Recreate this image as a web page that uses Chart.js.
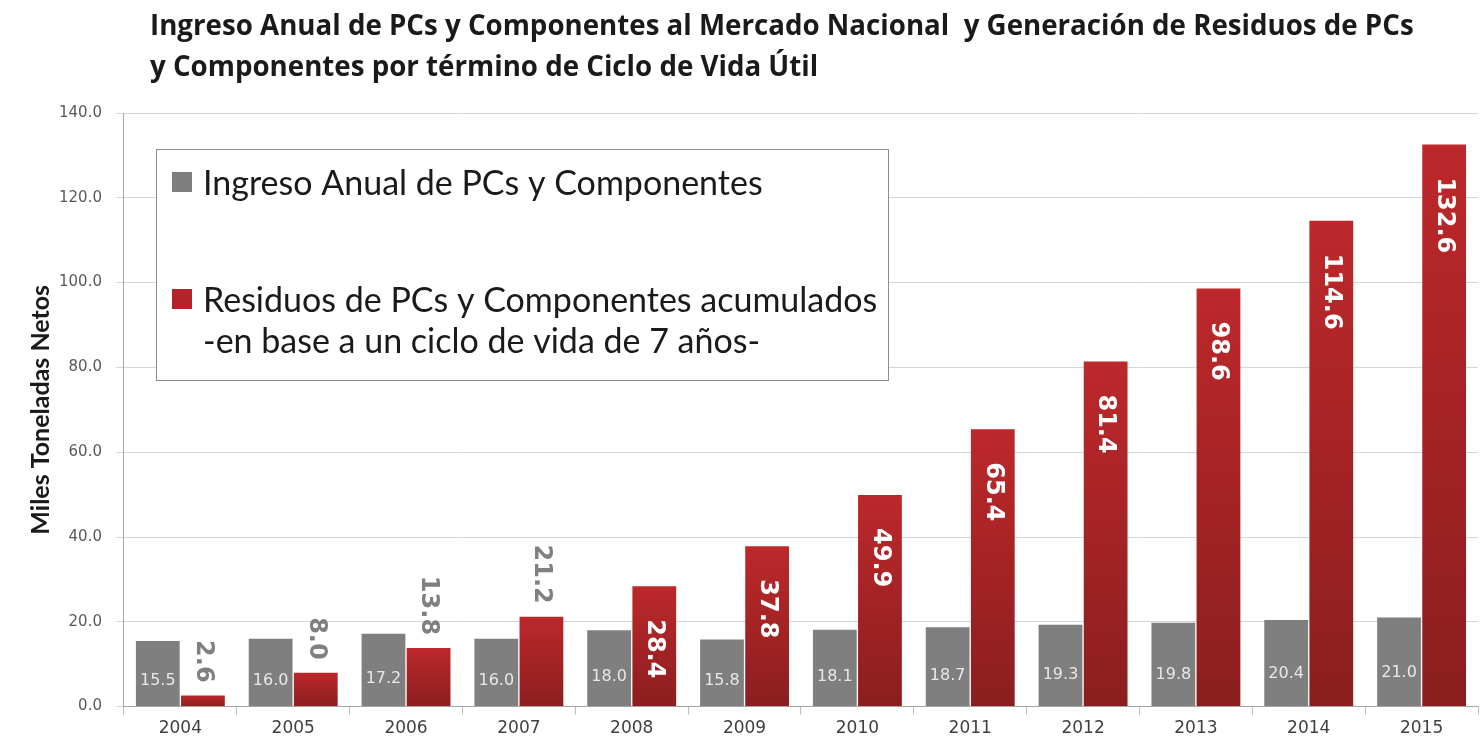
<!DOCTYPE html>
<html><head><meta charset="utf-8">
<script src="https://cdn.jsdelivr.net/npm/chart.js@4.4.0/dist/chart.umd.min.js"></script>
<style>html,body{margin:0;padding:0;background:#fff;overflow:hidden}#wrap{width:1484px;height:744px;position:relative}</style>
</head><body><div id="wrap"><canvas id="c" width="1484" height="744"></canvas></div>
<script>
const categories = ['2004','2005','2006','2007','2008','2009','2010','2011','2012','2013','2014','2015'];
const ingresoValues = [15.5, 16.0, 17.2, 16.0, 18.0, 15.8, 18.1, 18.7, 19.3, 19.8, 20.4, 21.0];
const residuosValues = [2.6, 8.0, 13.8, 21.2, 28.4, 37.8, 49.9, 65.4, 81.4, 98.6, 114.6, 132.6];
const ingresoLabel = ['Ingreso Anual de PCs y Componentes'];
const residuosLabel = ['Residuos de PCs y Componentes acumulados', '-en base a un ciclo de vida de 7 años-'];
const titleLines = ['Ingreso Anual de PCs y Componentes al Mercado Nacional  y Generación de Residuos de PCs', 'y Componentes por término de Ciclo de Vida Útil'];
const yAxisTitle = 'Miles Toneladas Netos';

const GRAY = '#7f7f7f';
const RED_TOP = '#bd282b';
const RED_BOTTOM = '#8b1e1f';

const titlePlugin = {
  id: 'customTitle',
  afterDraw(chart) {
    const ctx = chart.ctx;
    ctx.save();
    ctx.font = 'bold 27.7px "Open Sans"';
    ctx.fillStyle = '#1a1a1a';
    ctx.textAlign = 'left';
    ctx.textBaseline = 'alphabetic';
    ctx.fillText(titleLines[0], 150, 35);
    ctx.fillText(titleLines[1], 150, 76);
    ctx.restore();
  }
};

const legendPlugin = {
  id: 'boxLegend',
  afterDraw(chart) {
    const ctx = chart.ctx;
    ctx.save();
    ctx.fillStyle = '#ffffff';
    ctx.fillRect(156, 149, 732, 231);
    ctx.strokeStyle = '#8c8c8c';
    ctx.lineWidth = 1;
    ctx.strokeRect(156.5, 149.5, 732, 231);
    const items = [
      {lines: chart.data.datasets[0].legendLines, color: GRAY, y: 195},
      {lines: chart.data.datasets[1].legendLines, color: '#b5232a', y: 312}
    ];
    ctx.font = '34px Lato';
    ctx.textBaseline = 'alphabetic';
    items.forEach(it => {
      ctx.fillStyle = it.color;
      ctx.fillRect(172, it.y - 23, 20, 20);
      ctx.fillStyle = '#1a1a1a';
      it.lines.forEach((ln, k) => ctx.fillText(ln, 203, it.y + k * 41));
    });
    ctx.restore();
  }
};

const labelPlugin = {
  id: 'barLabels',
  afterDatasetsDraw(chart) {
    const ctx = chart.ctx;
    const m0 = chart.getDatasetMeta(0);
    ctx.save();
    ctx.font = '16px "DejaVu Sans"';
    ctx.fillStyle = '#e8e8e8';
    ctx.textAlign = 'center';
    ctx.textBaseline = 'middle';
    m0.data.forEach((bar, i) => {
      const h = bar.base - bar.y;
      ctx.fillText(ingresoValues[i].toFixed(1), bar.x, bar.base - h * 0.38);
    });
    ctx.restore();
    const m1 = chart.getDatasetMeta(1);
    m1.data.forEach((bar, i) => {
      const txt = residuosValues[i].toFixed(1);
      ctx.save();
      ctx.font = 'bold 24px "DejaVu Sans"';
      const w = ctx.measureText(txt).width;
      const h = bar.base - bar.y;
      ctx.textBaseline = 'middle';
      if (h > w + 40) {
        ctx.translate(bar.x, bar.y + 33);
        ctx.rotate(Math.PI / 2);
        ctx.textAlign = 'left';
        ctx.fillStyle = '#ffffff';
      } else {
        ctx.translate(bar.x, bar.y - 13);
        ctx.rotate(Math.PI / 2);
        ctx.textAlign = 'right';
        ctx.fillStyle = '#808080';
      }
      ctx.fillText(txt, 0, 0);
      ctx.restore();
    });
  }
};

function redGradient(c) {
  const chart = c.chart;
  if (!chart.chartArea || c.type !== 'data') return RED_TOP;
  const ys = chart.scales.y;
  const top = ys.getPixelForValue(c.raw);
  const bottom = ys.getPixelForValue(0);
  if (!isFinite(top) || top === bottom) return RED_TOP;
  const g = chart.ctx.createLinearGradient(0, top, 0, bottom);
  g.addColorStop(0, RED_TOP);
  g.addColorStop(1, RED_BOTTOM);
  return g;
}

new Chart(document.getElementById('c'), {
  type: 'bar',
  data: {
    labels: categories,
    datasets: [
      {label: ingresoLabel.join(' '), legendLines: ingresoLabel, data: ingresoValues, backgroundColor: GRAY, borderWidth: 0, categoryPercentage: 0.8, barPercentage: 0.97},
      {label: residuosLabel.join(' '), legendLines: residuosLabel, data: residuosValues, backgroundColor: redGradient, borderWidth: 0, categoryPercentage: 0.8, barPercentage: 0.97}
    ]
  },
  options: {
    responsive: false,
    devicePixelRatio: 1,
    animation: false,
    layout: {padding: {top: 113, left: 22, right: 6, bottom: 1}},
    plugins: {legend: {display: false}, title: {display: false}, tooltip: {enabled: false}},
    scales: {
      x: {
        grid: {drawOnChartArea: false, drawTicks: true, tickLength: 8, color: '#bfbfbf', offset: true},
        border: {color: '#a6a6a6'},
        ticks: {font: {family: 'DejaVu Sans', size: 17}, color: '#404040', padding: 4}
      },
      y: {
        min: 0, max: 140,
        afterFit: (axis) => { axis.width -= 15; },
        ticks: {stepSize: 20, font: {family: 'DejaVu Sans', size: 15}, color: '#595959', padding: 14,
          callback: v => Number(v).toFixed(1)},
        grid: {color: '#d6d6d6', tickLength: 8, drawTicks: true},
        border: {color: '#a6a6a6'},
        title: {display: true, text: yAxisTitle, font: {family: 'Lato', size: 25, weight: 'bold'}, color: '#1a1a1a', padding: {top: 4, bottom: 4}}
      }
    }
  },
  plugins: [labelPlugin, legendPlugin, titlePlugin]
});
</script></body></html>
